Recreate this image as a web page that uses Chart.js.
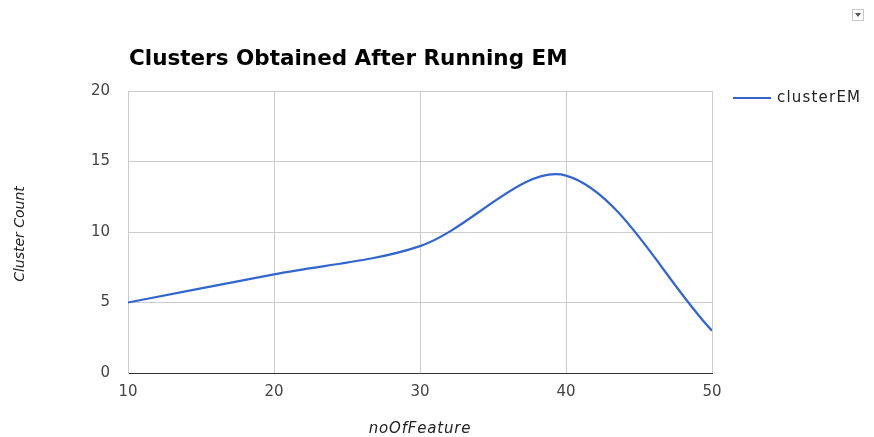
<!DOCTYPE html>
<html>
<head>
<meta charset="utf-8">
<script src="https://cdn.jsdelivr.net/npm/chart.js@4"></script>
<style>
  html, body { margin: 0; padding: 0; background: #fff; overflow: hidden; }
  #wrap { position: relative; width: 874px; height: 437px; }
  #menu { position: absolute; left: 852px; top: 9px; width: 10px; height: 10px; border: 1px solid #c8c8c8; background: #fff; }
  #menu:after { content: ""; position: absolute; left: 2px; top: 3px; border-left: 3px solid transparent; border-right: 3px solid transparent; border-top: 4px solid #555; }
</style>
</head>
<body>
<div id="wrap">
  <canvas id="chart" width="874" height="437"></canvas>
  <div id="menu"></div>
</div>
<script>
// Number of features used vs. clusters found by EM
const features = [10, 20, 30, 40, 50];
const clusterEM = [5, 7, 9, 14, 3];
const xTicks = [10, 20, 30, 40, 50];
const yTicks = [0, 5, 10, 15, 20];

const titleText = 'Clusters Obtained After Running EM';
const seriesName = 'clusterEM';
const xTitle = 'noOfFeature';
const yTitle = 'Cluster Count';

const LINE_COLOR = '#3366cc';
const FONT = '"DejaVu Sans", "Liberation Sans", Arial, sans-serif';

// Title, legend and axis titles drawn on the canvas
const decorations = {
  id: 'decorations',
  afterDraw(chart) {
    const ctx = chart.ctx;
    const area = chart.chartArea;
    ctx.save();

    ctx.fillStyle = '#000';
    ctx.font = 'bold 21.5px ' + FONT;
    ctx.textAlign = 'left';
    ctx.textBaseline = 'alphabetic';
    ctx.fillText(titleText, area.left + 1, 65);

    // legend entry
    const ly = area.top + 7;
    ctx.strokeStyle = LINE_COLOR;
    ctx.lineWidth = 2;
    ctx.beginPath();
    ctx.moveTo(area.right + 21, ly);
    ctx.lineTo(area.right + 59, ly);
    ctx.stroke();
    ctx.fillStyle = '#222';
    ctx.font = '15px ' + FONT;
    ctx.letterSpacing = '1.2px';
    ctx.textBaseline = 'middle';
    ctx.fillText(seriesName, area.right + 65, ly);

    // axis titles
    ctx.fillStyle = '#222';
    ctx.font = 'italic 15px ' + FONT;
    ctx.letterSpacing = '0.8px';
    ctx.textAlign = 'center';
    ctx.textBaseline = 'alphabetic';
    ctx.fillText(xTitle, (area.left + area.right) / 2, 433);

    ctx.letterSpacing = '0px';
    ctx.translate(24, 234);
    ctx.rotate(-Math.PI / 2);
    ctx.font = 'italic 14px ' + FONT;
    ctx.fillText(yTitle, 0, 0);
    ctx.restore();
  }
};

new Chart(document.getElementById('chart'), {
  type: 'line',
  data: {
    datasets: [{
      label: seriesName,
      data: features.map((x, i) => ({ x: x, y: clusterEM[i] })),
      borderColor: LINE_COLOR,
      borderWidth: 2.2,
      pointRadius: 0,
      pointHoverRadius: 0,
      tension: 0.33,
      fill: false
    }]
  },
  options: {
    responsive: false,
    animation: false,
    devicePixelRatio: 1,
    layout: { padding: { left: 0, top: 91, right: 162, bottom: 0 } },
    plugins: {
      legend: { display: false },
      title: { display: false },
      tooltip: { enabled: false }
    },
    scales: {
      x: {
        type: 'linear',
        min: 10,
        max: 50,
        afterBuildTicks(scale) { scale.ticks = xTicks.map(v => ({ value: v })); },
        afterFit(scale) { scale.height = 64; },
        grid: { color: '#cccccc', lineWidth: 1, drawTicks: false },
        border: { color: '#333333', width: 1 },
        ticks: { color: '#444', font: { family: FONT, size: 15 }, padding: 10, maxRotation: 0 }
      },
      y: {
        min: 0,
        max: 20,
        afterBuildTicks(scale) { scale.ticks = yTicks.map(v => ({ value: v })); },
        afterFit(scale) { scale.width = 128; },
        grid: { color: '#cccccc', lineWidth: 1, drawTicks: false },
        border: { color: '#cccccc', width: 1 },
        ticks: { color: '#444', font: { family: FONT, size: 15 }, padding: 18 }
      }
    }
  },
  plugins: [decorations]
});
</script>
</body>
</html>
